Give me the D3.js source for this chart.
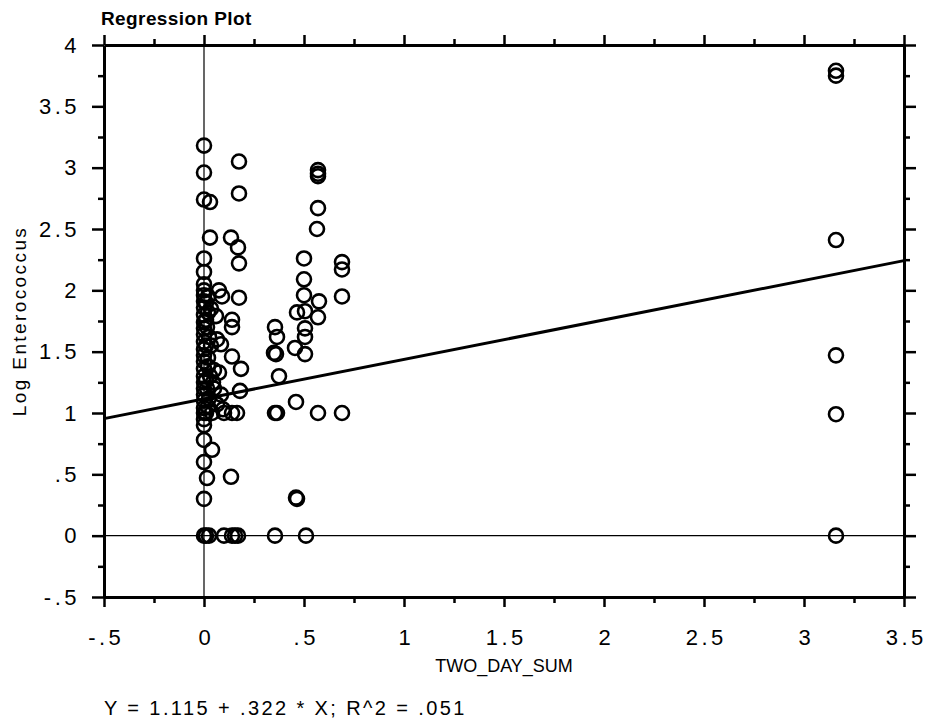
<!DOCTYPE html>
<html>
<head>
<meta charset="utf-8">
<script src="https://cdn.jsdelivr.net/npm/d3@7"></script>
<style>
  body { margin: 0; background: #fff; }
  text { font-family: "Liberation Sans", Arial, sans-serif; fill: #000; }
</style>
</head>
<body>
<svg id="chart" width="927" height="723"></svg>
<script>
// TWO_DAY_SUM vs Log Enterococcus
const twoDaySum = [
  0, 0, 0, 0, 0, 0, 0, 0, 0, 0, 0, 0, 0, 0, 0, 0, 0, 0, 0, 0, 0, 0, 0, 0, 0, 0, 0, 0, 0, 0, 0, 0,
  0.03, 0.03, 0.02, 0.015, 0.02, 0.015, 0.01, 0.04, 0.015, 0.01, 0.025,
  0.01, 0.02, 0.01, 0.025, 0.01, 0.02, 0.03, 0.01, 0.025, 0.02, 0.035, 0.035, 0.045, 0.04,
  0.075, 0.09, 0.06, 0.065, 0.085, 0.05, 0.075, 0.05, 0.085, 0.065, 0.095, 0.1, 0.1,
  0.175, 0.175, 0.135, 0.17, 0.175, 0.175, 0.14, 0.14, 0.14, 0.185, 0.18, 0.14, 0.165, 0.135, 0.14, 0.155, 0.17,
  0.355, 0.365, 0.35, 0.36, 0.375, 0.355, 0.365, 0.355,
  0.465, 0.455, 0.46, 0.46, 0.465,
  0.5, 0.5, 0.5, 0.505, 0.505, 0.505, 0.505, 0.51,
  0.57, 0.57, 0.57, 0.57, 0.565, 0.575, 0.57, 0.57,
  0.69, 0.69, 0.69, 0.69,
  3.16, 3.16, 3.16, 3.16, 3.16, 3.16
];
const logEntero = [
  3.18, 2.96, 2.74, 2.26, 2.15, 2.05, 2.0, 1.96, 1.91, 1.86, 1.8, 1.74, 1.69, 1.64, 1.58, 1.52, 1.47, 1.42, 1.36, 1.3, 1.25, 1.2, 1.15, 1.1, 1.04, 1.0, 0.95, 0.9, 0.78, 0.6, 0.3, 0,
  2.72, 2.43, 1.95, 1.7, 1.45, 1.2, 1.0, 0.7, 0.47, 0, 0,
  1.9, 1.82, 1.76, 1.62, 1.55, 1.38, 1.3, 1.27, 1.12, 1.05, 1.55, 1.85, 1.25, 1.0,
  2.0, 1.95, 1.79, 1.6, 1.56, 1.35, 1.33, 1.2, 1.15, 1.07, 1.03, 1.0, 0,
  3.05, 2.79, 2.43, 2.35, 2.22, 1.94, 1.76, 1.7, 1.46, 1.36, 1.18, 1.0, 1.0, 0.48, 0, 0, 0,
  1.7, 1.62, 1.49, 1.48, 1.3, 1.0, 1.0, 0,
  1.82, 1.53, 1.09, 0.31, 0.3,
  2.26, 2.09, 1.96, 1.83, 1.69, 1.62, 1.48, 0,
  2.98, 2.95, 2.93, 2.67, 2.5, 1.91, 1.78, 1.0,
  2.23, 2.17, 1.95, 1.0,
  3.79, 3.75, 2.41, 1.47, 0.99, 0
];
const intercept = 1.115, slope = 0.322;
const xTicks = [-0.5, 0, 0.5, 1, 1.5, 2, 2.5, 3, 3.5];
const xTickLabels = ["-.5", "0", ".5", "1", "1.5", "2", "2.5", "3", "3.5"];
const yTicks = [-0.5, 0, 0.5, 1, 1.5, 2, 2.5, 3, 3.5, 4];
const yTickLabels = ["-.5", "0", ".5", "1", "1.5", "2", "2.5", "3", "3.5", "4"];

const svg = d3.select("#chart");
const plotL = 104, plotR = 904, plotT = 45, plotB = 597;

const x = d3.scaleLinear().domain([-0.5, 3.5]).range([plotL, plotR]);
const y = d3.scaleLinear().domain([-0.5, 4]).range([plotB, plotT]);

const minorX = d3.range(-0.5, 3.51, 0.25);
const minorY = d3.range(-0.5, 4.01, 0.25);

// reference lines at zero
svg.append("line").attr("x1", x(0)).attr("x2", x(0)).attr("y1", plotT).attr("y2", plotB)
  .attr("stroke", "#000").attr("stroke-width", 1.2);
svg.append("line").attr("x1", plotL).attr("x2", plotR).attr("y1", y(0)).attr("y2", y(0))
  .attr("stroke", "#000").attr("stroke-width", 1.2);

// axes on all four sides
function fmtFrom(vals, labels) {
  return d => { const i = vals.findIndex(v => Math.abs(v - d) < 1e-9); return i >= 0 ? labels[i] : ""; };
}
const axisStyle = g => {
  g.select(".domain").attr("stroke-width", 3);
  g.selectAll(".tick line").attr("stroke-width", 2.5);
};

const isMajor = d => Math.abs(d * 2 - Math.round(d * 2)) < 1e-9;

svg.append("g").attr("transform", `translate(0,${plotB})`)
  .call(d3.axisBottom(x).tickValues(minorX).tickSizeOuter(0).tickPadding(26).tickFormat(fmtFrom(xTicks, xTickLabels)))
  .call(axisStyle)
  .call(g => g.selectAll(".tick line").attr("y2", d => isMajor(d) ? 10 : 6))
  .call(g => g.selectAll(".tick text").attr("font-size", 22).attr("letter-spacing", "3.5px").attr("dx", "1.75px"));

svg.append("g").attr("transform", `translate(0,${plotT})`)
  .call(d3.axisTop(x).tickValues(minorX).tickSizeOuter(0).tickFormat(""))
  .call(axisStyle)
  .call(g => g.selectAll(".tick line").attr("y2", d => isMajor(d) ? -10 : -6));

svg.append("g").attr("transform", `translate(${plotL},0)`)
  .call(d3.axisLeft(y).tickValues(minorY).tickSizeOuter(0).tickPadding(18).tickFormat(fmtFrom(yTicks, yTickLabels)))
  .call(axisStyle)
  .call(g => g.selectAll(".tick line").attr("x2", d => isMajor(d) ? -12 : -6))
  .call(g => g.selectAll(".tick text").attr("font-size", 22).attr("letter-spacing", "3.5px"));

svg.append("g").attr("transform", `translate(${plotR},0)`)
  .call(d3.axisRight(y).tickValues(minorY).tickSizeOuter(0).tickFormat(""))
  .call(axisStyle)
  .call(g => g.selectAll(".tick line").attr("x2", d => isMajor(d) ? 12 : 6));

// regression line
svg.append("line")
  .attr("x1", x(-0.5)).attr("y1", y(intercept + slope * -0.5))
  .attr("x2", x(3.5)).attr("y2", y(intercept + slope * 3.5))
  .attr("stroke", "#000").attr("stroke-width", 3);

// points
svg.append("g").selectAll("circle")
  .data(d3.range(twoDaySum.length))
  .enter().append("circle")
  .attr("cx", i => x(twoDaySum[i]))
  .attr("cy", i => y(logEntero[i]))
  .attr("r", 7)
  .attr("fill", "none")
  .attr("stroke", "#000")
  .attr("stroke-width", 2.6);

// titles
svg.append("text").attr("x", 101).attr("y", 25)
  .attr("font-size", 19).attr("font-weight", "bold").attr("letter-spacing", "0.4px").text("Regression Plot");

svg.append("text").attr("transform", `translate(26,${(plotT + plotB) / 2}) rotate(-90)`)
  .attr("text-anchor", "middle").attr("font-size", 19).attr("letter-spacing", "2.4px").text("Log Enterococcus");

svg.append("text").attr("x", (plotL + plotR) / 2).attr("y", 672)
  .attr("text-anchor", "middle").attr("font-size", 18).text("TWO_DAY_SUM");

svg.append("text").attr("x", 104).attr("y", 715)
  .attr("font-size", 20).attr("letter-spacing", "2.4px").text("Y = 1.115 + .322 * X; R^2 = .051");
</script>
</body>
</html>
